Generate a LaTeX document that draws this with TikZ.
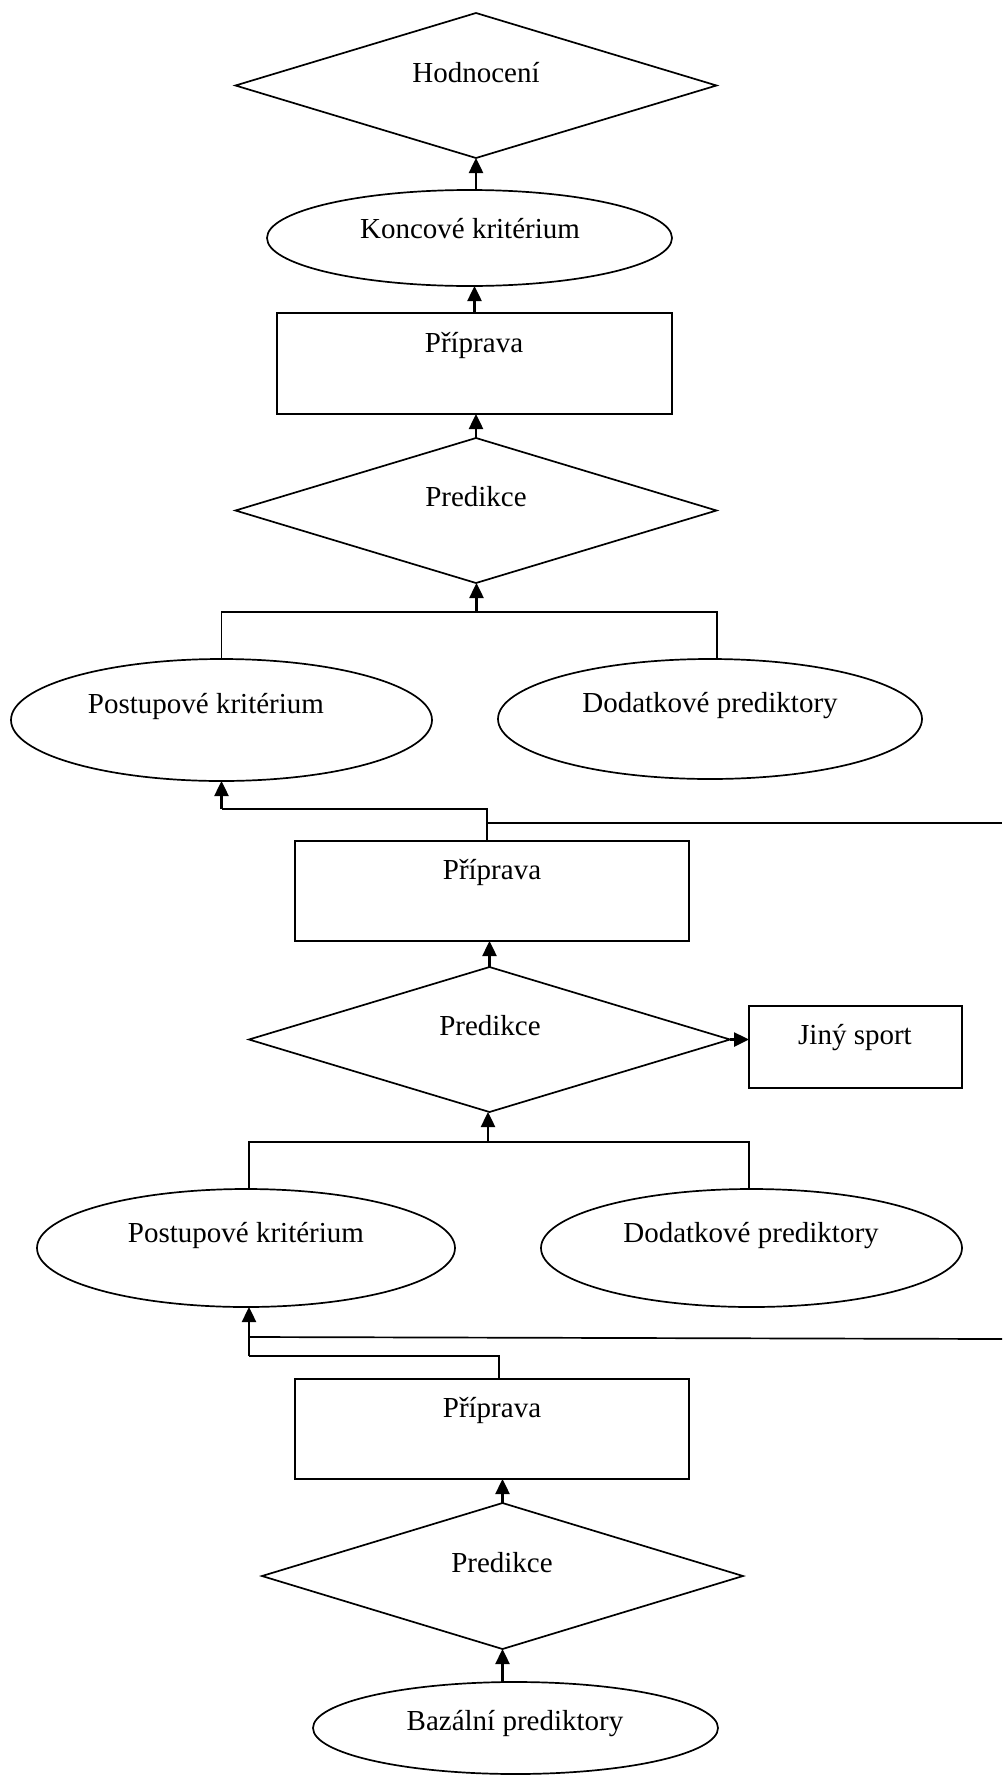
\documentclass[tikz,border=0pt]{standalone}
\usepackage{fontspec}
\setmainfont{Liberation Serif}
\usetikzlibrary{shapes.geometric,arrows.meta}
\begin{document}
\begin{tikzpicture}[x=1pt,y=-1pt,
  line width=1.7pt,
  every node/.style={inner sep=0pt,outer sep=0pt},
  dia/.style={draw,diamond,minimum width=481,minimum height=145},
  ell/.style={draw,ellipse},
  box/.style={draw,rectangle},
  lbl/.style={anchor=base,font=\fontsize{29}{34}\selectfont},
  arr/.style={line width=2.5pt,-{Triangle[length=15pt,width=14pt]}}]
\fill[white] (0,0) rectangle (1002,1775);
\useasboundingbox (0,0) rectangle (1002,1775);

% shapes
\node[dia] (hod) at (476,85.5) {};
\node[ell,minimum width=405,minimum height=96] (konc) at (469.5,238) {};
\node[box,minimum width=395,minimum height=101] (prip1) at (474.5,363.5) {};
\node[dia] (pred1) at (476,510.5) {};
\node[ell,minimum width=421,minimum height=122] (post1) at (221.5,720) {};
\node[ell,minimum width=424,minimum height=120] (dod1) at (710,719) {};
\node[box,minimum width=394,minimum height=100] (prip2) at (492,891) {};
\node[dia] (pred2) at (489.5,1039.5) {};
\node[box,minimum width=213,minimum height=82] (jiny) at (855.5,1047) {};
\node[ell,minimum width=418,minimum height=118] (post2) at (246,1248) {};
\node[ell,minimum width=421,minimum height=118] (dod2) at (751.5,1248) {};
\node[box,minimum width=394,minimum height=100] (prip3) at (492,1429) {};
\node[dia,minimum height=146] (pred3) at (502.5,1576) {};
\node[ell,minimum width=405,minimum height=92] (baz) at (515.5,1728) {};

% texts
\node[lbl] (hodT) at (476,82) {Hodnocení};
\node[lbl] (koncT) at (470,238) {Koncové kritérium};
\node[lbl] (prip1T) at (474,352) {Příprava};
\node[lbl] (pred1T) at (476,506) {Predikce};
\node[lbl] (post1T) at (206,713) {Postupové kritérium};
\node[lbl] (dod1T) at (710,712) {Dodatkové prediktory};
\node[lbl] (prip2T) at (492,879) {Příprava};
\node[lbl] (pred2T) at (490,1035) {Predikce};
\node[lbl] (jinyT) at (855,1044) {Jiný sport};
\node[lbl] (post2T) at (246,1242) {Postupové kritérium};
\node[lbl] (dod2T) at (751,1242) {Dodatkové prediktory};
\node[lbl] (prip3T) at (492,1417) {Příprava};
\node[lbl] (pred3T) at (502,1572) {Predikce};
\node[lbl] (bazT) at (515,1730) {Bazální prediktory};

% junction points
\coordinate (b1) at (476.5,612);
\coordinate (c1) at (487,809);
\coordinate (d1) at (487,823);
\coordinate (e1) at (1002,823);
\coordinate (b2) at (488,1142);
\coordinate (c2) at (249,1356);
\coordinate (d2) at (249,1337);
\coordinate (e2) at (1002,1339);

% vertical chain
\draw[arr] (hod.south |- konc.north) -- (hod.south);
\draw[arr] (prip1.north) -- (prip1.north |- konc.south);
\draw[arr] (pred1.north) -- (pred1.north |- prip1.south);

% first pair of ellipses joined into the middle prediction
\draw (post1.north) |- (b1) -| ([xshift=7]dod1.north);
\draw[arr] (b1) -- (b1 |- pred1.south);

% from the second preparation
\draw (prip2.north -| c1) |- (post1.south |- c1);
\draw[arr] (post1.south |- c1) -- (post1.south);
\draw (d1) -- (e1);
\draw[arr] (pred2.north) -- (pred2.north |- prip2.south);
\draw[arr] (pred2.east) -- (pred2.east -| jiny.west);

% second pair of ellipses
\draw (c2 |- post2.north) |- (b2) -| ([xshift=-2.5]dod2.north);
\draw[arr] (b2) -- (b2 |- pred2.south);

% from the third preparation
\draw ([xshift=7]prip3.north) |- (c2);
\draw[arr] (c2) -- (c2 |- post2.south);
\draw (d2) -- (e2);
\draw[arr] (pred3.north) -- (pred3.north |- prip3.south);
\draw[arr] (pred3.south |- baz.north) -- (pred3.south);
\end{tikzpicture}
\end{document}
